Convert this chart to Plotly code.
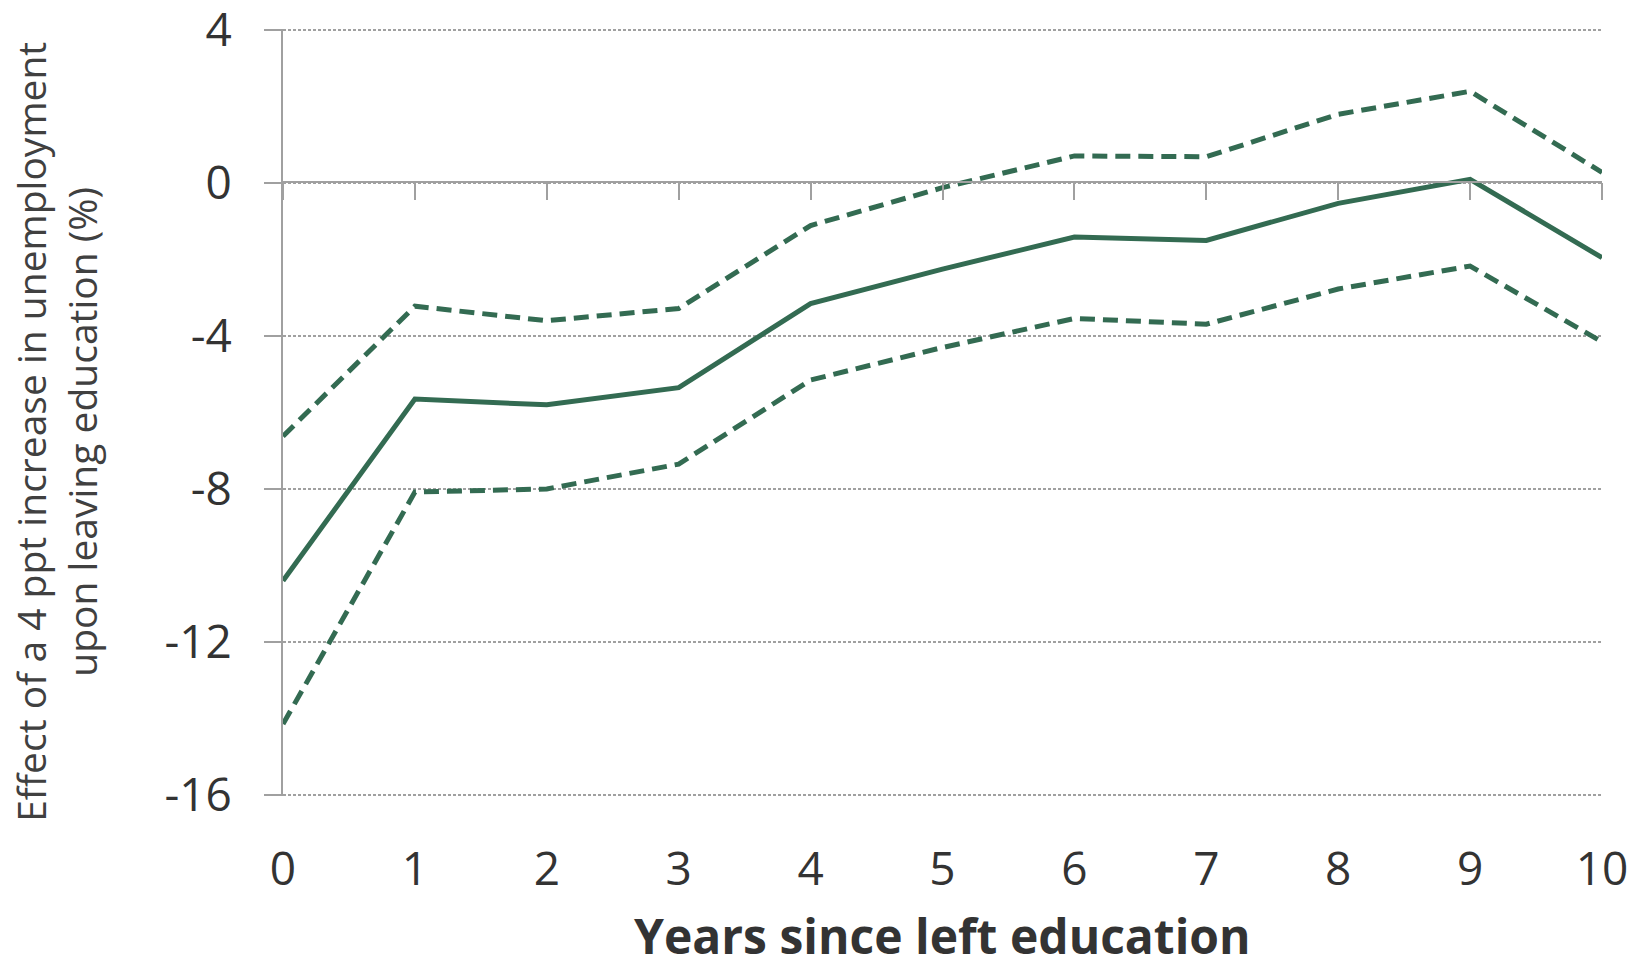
import plotly.graph_objects as go

years = [0, 1, 2, 3, 4, 5, 6, 7, 8, 9, 10]
central = [-10.4, -5.65, -5.8, -5.35, -3.15, -2.25, -1.41, -1.5, -0.53, 0.1, -1.95]
upper = [-6.62, -3.22, -3.6, -3.28, -1.11, -0.12, 0.71, 0.69, 1.8, 2.4, 0.28]
lower = [-14.15, -8.08, -8.0, -7.35, -5.15, -4.3, -3.54, -3.69, -2.77, -2.17, -4.15]
y_ticks = [-16, -12, -8, -4, 0, 4]
y_labels = ["-16", "-12", "-8", "-4", "0", "4"]
x_ticks = list(range(0, 11))

green = "#336B52"
grey = "#a0a0a0"
txt = "#333333"
font = "Open Sans"

fig = go.Figure()
for band in (upper, lower):
    fig.add_trace(go.Scatter(x=years, y=band, mode="lines",
                             line=dict(color=green, width=5, dash="15px,8px"), showlegend=False))
fig.add_trace(go.Scatter(x=years, y=central, mode="lines",
                         line=dict(color=green, width=5), showlegend=False))

plot_top, plot_bottom, plot_left, plot_right = 29.3, 796, 283, 1602

fig.update_layout(
    width=1642, height=961,
    margin=dict(l=283, r=40, t=29, b=165),
    paper_bgcolor="white", plot_bgcolor="white",
    font=dict(family=font, color=txt),
    xaxis=dict(range=[0, 10], tickvals=x_ticks, showgrid=False, zeroline=False, automargin=False,
               showline=False, ticks="outside", ticklen=33, tickcolor="rgba(0,0,0,0)",
               tickfont=dict(size=46, color=txt), ticklabeloverflow="allow"),
    xaxis2=dict(range=[0, 10], tickvals=x_ticks, overlaying="x", anchor="free", position=0.8,
                side="bottom", showline=True, linecolor=grey, linewidth=2, automargin=False,
                ticks="outside", ticklen=17, tickwidth=2, tickcolor=grey,
                showticklabels=False, showgrid=False, zeroline=False),
    yaxis=dict(range=[-16.03, 4.03], tickvals=y_ticks, ticktext=y_labels, automargin=False,
               showline=True, linecolor=grey, linewidth=2, ticklabeloverflow="allow",
               ticks="outside", ticklen=17, tickwidth=2, tickcolor=grey,
               showgrid=True, gridcolor=grey, gridwidth=1.5, griddash="3px,2px",
               zeroline=False, tickfont=dict(size=46, color=txt), ticklabelstandoff=23),
    annotations=[
        dict(text="Effect of a 4 ppt increase in unemployment<br>upon leaving education (%)",
             textangle=-90, xref="paper", yref="paper",
             x=(56 - plot_left) / (plot_right - plot_left),
             y=(plot_bottom - 432) / (plot_bottom - plot_top),
             xanchor="center", yanchor="middle", showarrow=False,
             font=dict(size=39, color="#404040", family=font)),
        dict(text="<b>Years since left education</b>", xref="paper", yref="paper",
             x=0.5, y=(plot_bottom - 935) / (plot_bottom - plot_top),
             xanchor="center", yanchor="middle", showarrow=False,
             font=dict(size=48, color=txt, family=font)),
    ],
)
fig.add_trace(go.Scatter(x=[0], y=[0], xaxis="x2", mode="markers",
                         marker=dict(opacity=0), showlegend=False, hoverinfo="skip"))

fig.write_html("out.html", config={"displayModeBar": False},
               post_script="document.body.style.margin='0';")
